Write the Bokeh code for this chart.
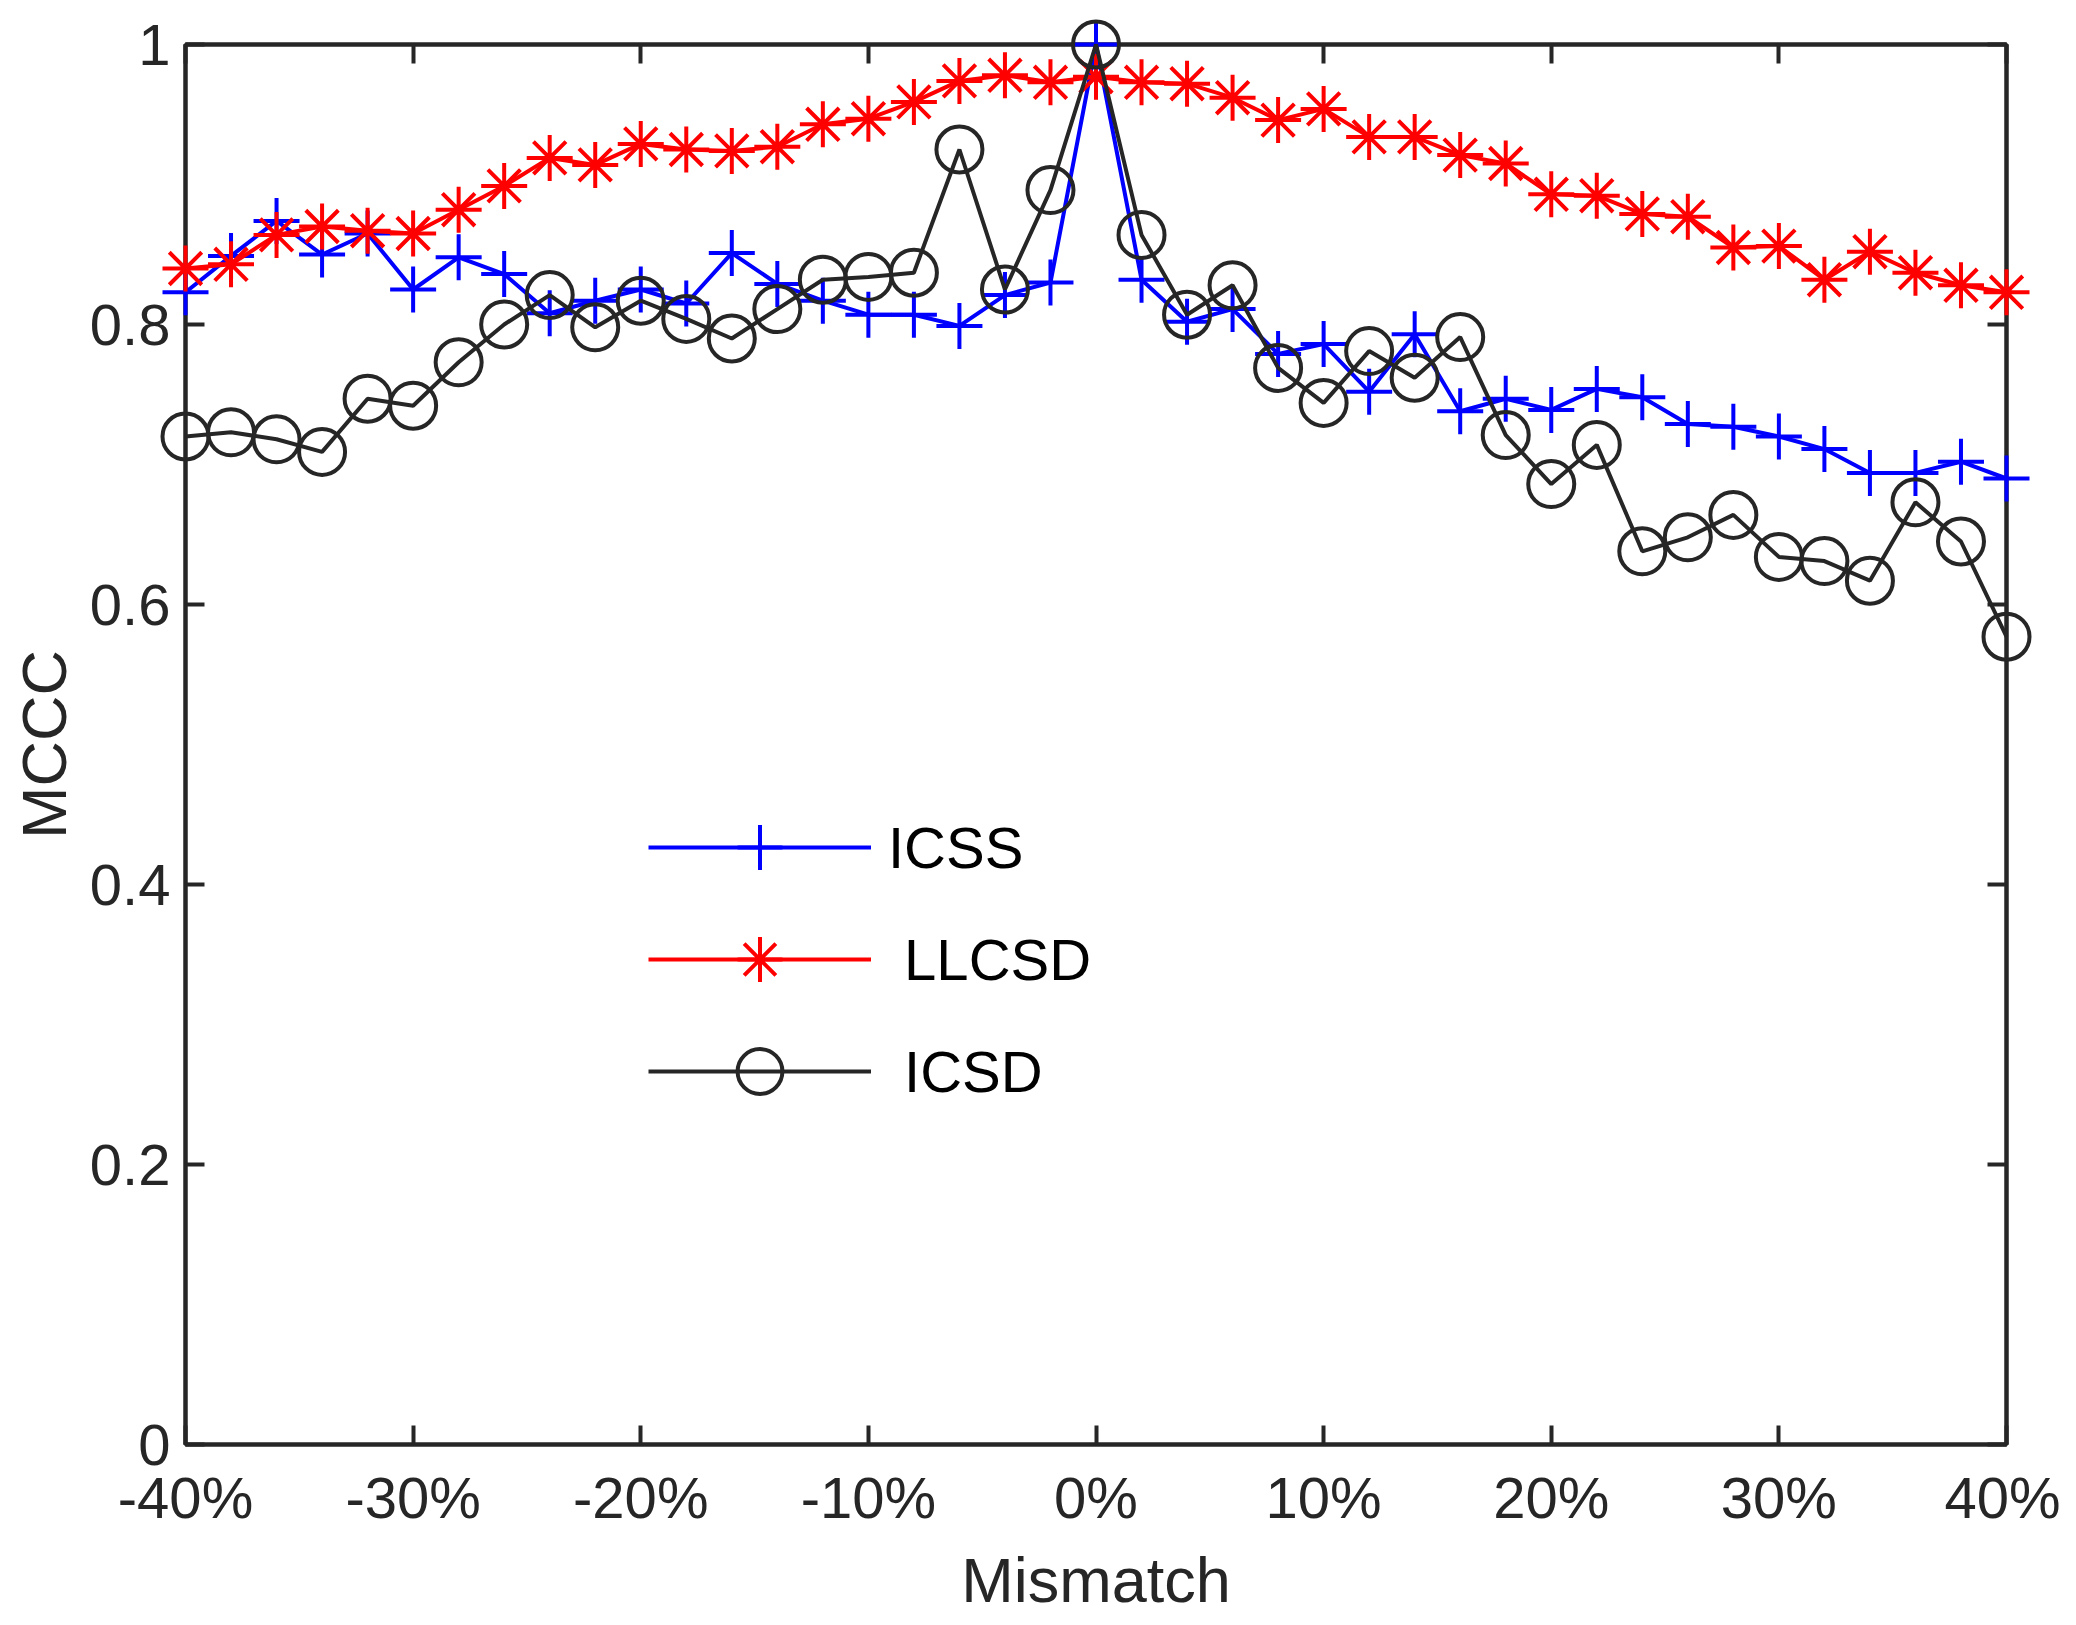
from bokeh.plotting import figure
from bokeh.models import (
    Range1d,
    LinearAxis,
    FixedTicker,
    Legend,
    LegendItem,
)
from bokeh.embed import file_html
from bokeh.resources import INLINE

# mismatch in percent
mismatch = [-40, -38, -36, -34, -32, -30, -28, -26, -24, -22, -20,
            -18, -16, -14, -12, -10, -8, -6, -4, -2, 0,
            2, 4, 6, 8, 10, 12, 14, 16, 18, 20,
            22, 24, 26, 28, 30, 32, 34, 36, 38, 40]

icss = [0.823, 0.849, 0.874, 0.850, 0.865, 0.825, 0.848, 0.836, 0.808, 0.817,
        0.825, 0.815, 0.851, 0.829, 0.817, 0.807, 0.807, 0.799, 0.821, 0.830,
        1.000,
        0.832, 0.802, 0.811, 0.779, 0.786, 0.752, 0.793, 0.738, 0.747, 0.739,
        0.754, 0.748, 0.729, 0.727, 0.720, 0.711, 0.694, 0.694, 0.702, 0.690]

llcsd = [0.840, 0.843, 0.864, 0.870, 0.867, 0.865, 0.882, 0.899, 0.919, 0.914,
         0.929, 0.925, 0.924, 0.927, 0.943, 0.947, 0.959, 0.974, 0.978, 0.973,
         0.977,
         0.973, 0.972, 0.962, 0.946, 0.954, 0.934, 0.934, 0.921, 0.915, 0.893,
         0.892, 0.879, 0.877, 0.855, 0.856, 0.832, 0.852, 0.837, 0.828, 0.823]

icsd = [0.720, 0.723, 0.718, 0.709, 0.747, 0.742, 0.773, 0.800, 0.821, 0.798,
        0.817, 0.804, 0.790, 0.811, 0.832, 0.834, 0.837, 0.925, 0.825, 0.896,
        1.000,
        0.864, 0.807, 0.828, 0.769, 0.744, 0.781, 0.762, 0.791, 0.721, 0.686,
        0.714, 0.638, 0.648, 0.664, 0.634, 0.631, 0.617, 0.673, 0.645, 0.577]

x_ticks = [-40, -30, -20, -10, 0, 10, 20, 30, 40]
x_tick_labels = ["-40%", "-30%", "-20%", "-10%", "0%", "10%", "20%", "30%", "40%"]
y_ticks = [0, 0.2, 0.4, 0.6, 0.8, 1]
y_tick_labels = ["0", "0.2", "0.4", "0.6", "0.8", "1"]

FONT = "Liberation Sans"
AX = "#262626"

p = figure(
    width=2060,
    height=1617,
    x_range=Range1d(-40, 40),
    y_range=Range1d(0, 1),
    output_backend="svg",
    toolbar_location=None,
    tools="",
    min_border_left=185,
    min_border_right=54,
    min_border_top=44,
    min_border_bottom=170,
)
p.grid.visible = False
p.outline_line_color = AX
p.outline_line_width = 4
p.background_fill_color = "white"
p.border_fill_color = "white"

# mirrored axes on top and right (ticks only, labels not drawn)
p.add_layout(LinearAxis(), "above")
p.add_layout(LinearAxis(), "right")

for ax in p.xaxis:
    ax.ticker = FixedTicker(ticks=x_ticks)
    ax.major_label_overrides = dict(zip(x_ticks, x_tick_labels))
for ax in p.yaxis:
    ax.ticker = FixedTicker(ticks=y_ticks)
    ax.major_label_overrides = dict(zip(y_ticks, y_tick_labels))

for ax in p.axis:
    ax.axis_line_color = AX
    ax.axis_line_width = 4
    ax.major_tick_line_color = AX
    ax.major_tick_line_width = 4
    ax.major_tick_in = 19
    ax.major_tick_out = 0
    ax.minor_tick_line_color = None
    ax.major_label_text_font = FONT
    ax.major_label_text_font_size = "58px"
    ax.major_label_text_color = AX

for ax in (p.above[0], p.right[0]):
    ax.major_label_text_font_size = "0px"
    ax.major_label_text_color = None

p.below[0].major_label_standoff = 20
p.left[0].major_label_standoff = 15

p.below[0].axis_label = "Mismatch"
p.left[0].axis_label = "MCCC"
for ax in (p.below[0], p.left[0]):
    ax.axis_label_text_font = FONT
    ax.axis_label_text_font_size = "63px"
    ax.axis_label_text_font_style = "normal"
    ax.axis_label_text_color = AX
p.below[0].axis_label_standoff = 12
p.left[0].axis_label_standoff = 8

# ICSS
l1 = p.line(mismatch, icss, line_color="#0000ff", line_width=4, level="overlay")
m1 = p.scatter(mismatch, icss, marker="cross", size=46, line_color="#0000ff",
               line_width=4, fill_color=None, level="overlay")
# LLCSD
l2 = p.line(mismatch, llcsd, line_color="#ff0000", line_width=4, level="overlay")
m2 = p.scatter(mismatch, llcsd, marker="asterisk", size=46, line_color="#ff0000",
               line_width=4, fill_color=None, level="overlay")
# ICSD
l3 = p.line(mismatch, icsd, line_color=AX, line_width=4, level="overlay")
m3 = p.scatter(mismatch, icsd, marker="circle", size=46, line_color=AX,
               line_width=4, fill_color=None, level="overlay")

legend = Legend(
    items=[
        LegendItem(label="ICSS", renderers=[l1, m1]),
        LegendItem(label=" LLCSD", renderers=[l2, m2]),
        LegendItem(label=" ICSD", renderers=[l3, m3]),
    ],
    location=(463, 317),
    glyph_width=223,
    glyph_height=112,
    spacing=0,
    padding=0,
    margin=0,
    label_standoff=17,
    label_text_font=FONT,
    label_text_font_size="58px",
    label_text_color="black",
    border_line_color=None,
    background_fill_alpha=0,
)
p.add_layout(legend, "center")

open("out.html", "w").write(file_html(p, INLINE))
